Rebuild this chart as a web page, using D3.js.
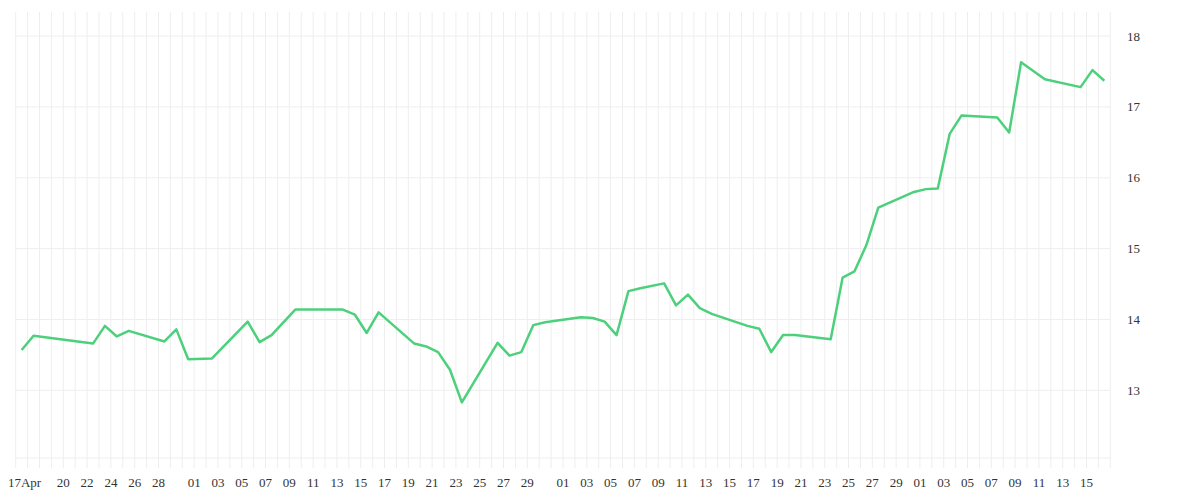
<!DOCTYPE html>
<html>
<head>
<meta charset="utf-8">
<script src="https://cdn.jsdelivr.net/npm/d3@7"></script>
<style>
  body { margin: 0; background: #fff; }
  svg text { font-family: "Liberation Serif", serif; font-size: 13px; fill: #333; }
</style>
</head>
<body>
<div id="chart"></div>
<script>
// daily closes (dates without a value are simply skipped)
var dates = [
  "2020-04-16","2020-04-17","2020-04-22","2020-04-23","2020-04-24","2020-04-25",
  "2020-04-28","2020-04-29","2020-04-30","2020-05-02","2020-05-05","2020-05-06",
  "2020-05-07","2020-05-09","2020-05-13","2020-05-14","2020-05-15","2020-05-16",
  "2020-05-19","2020-05-20","2020-05-21","2020-05-22","2020-05-23","2020-05-26",
  "2020-05-27","2020-05-28","2020-05-29","2020-05-30","2020-06-02","2020-06-03",
  "2020-06-04","2020-06-05","2020-06-06","2020-06-07","2020-06-09","2020-06-10",
  "2020-06-11","2020-06-12","2020-06-13","2020-06-16","2020-06-17","2020-06-18",
  "2020-06-19","2020-06-20","2020-06-23","2020-06-24","2020-06-25","2020-06-26",
  "2020-06-27","2020-06-30","2020-07-01","2020-07-02","2020-07-03","2020-07-04",
  "2020-07-07","2020-07-08","2020-07-09","2020-07-11","2020-07-14","2020-07-15",
  "2020-07-16"
];
var values = [
  13.57, 13.77, 13.66, 13.91, 13.76, 13.84,
  13.69, 13.86, 13.44, 13.45, 13.97, 13.68,
  13.78, 14.14, 14.14, 14.07, 13.81, 14.10,
  13.66, 13.62, 13.54, 13.29, 12.83, 13.67,
  13.49, 13.54, 13.92, 13.96, 14.03, 14.02,
  13.97, 13.78, 14.40, 14.44, 14.51, 14.20,
  14.35, 14.16, 14.08, 13.91, 13.87, 13.54,
  13.78, 13.78, 13.72, 14.59, 14.68, 15.05,
  15.58, 15.80, 15.84, 15.85, 16.62, 16.88,
  16.85, 16.64, 17.63, 17.39, 17.28, 17.52,
  17.37
];

// x axis labels
var tickDates = [
  "2020-04-17","2020-04-20","2020-04-22","2020-04-24","2020-04-26","2020-04-28",
  "2020-05-01","2020-05-03","2020-05-05","2020-05-07","2020-05-09","2020-05-11",
  "2020-05-13","2020-05-15","2020-05-17","2020-05-19","2020-05-21","2020-05-23",
  "2020-05-25","2020-05-27","2020-05-29",
  "2020-06-01","2020-06-03","2020-06-05","2020-06-07","2020-06-09","2020-06-11",
  "2020-06-13","2020-06-15","2020-06-17","2020-06-19","2020-06-21","2020-06-23",
  "2020-06-25","2020-06-27","2020-06-29",
  "2020-07-01","2020-07-03","2020-07-05","2020-07-07","2020-07-09","2020-07-11",
  "2020-07-13","2020-07-15"
];
var yTicks = [13, 14, 15, 16, 17, 18];
var xStart = "2020-04-16", xEnd = "2020-07-17";

var width = 1200, height = 500;
var plot = {left: 15.7, right: 1110.3, top: 12, bottom: 458};

var parse = d3.utcParse("%Y-%m-%d");

var svg = d3.select("#chart").append("svg")
    .attr("width", width)
    .attr("height", height);

var x = d3.scaleUtc()
    .domain([parse(xStart), parse(xEnd)])
    .range([plot.left, plot.right]);

var y = d3.scaleLinear()
    .domain([12.045, 18.34])
    .range([plot.bottom, plot.top]);

// vertical grid, one line per day, running down past the bottom as a tick
var days = d3.utcDay.range(parse(xStart), d3.utcDay.offset(parse(xEnd), 1));
svg.append("g").selectAll("line")
    .data(days)
    .enter().append("line")
    .attr("x1", function(d){ return x(d); })
    .attr("x2", function(d){ return x(d); })
    .attr("y1", plot.top)
    .attr("y2", plot.bottom + 10)
    .attr("stroke", "#eeeeee")
    .attr("stroke-width", 1);

// horizontal grid
svg.append("g").selectAll("line")
    .data(yTicks)
    .enter().append("line")
    .attr("x1", plot.left)
    .attr("x2", plot.right)
    .attr("y1", function(d){ return y(d); })
    .attr("y2", function(d){ return y(d); })
    .attr("stroke", "#eeeeee");

svg.append("line")
    .attr("x1", plot.left)
    .attr("x2", plot.right)
    .attr("y1", plot.bottom)
    .attr("y2", plot.bottom)
    .attr("stroke", "#eeeeee");

// x labels
var fmtDay = d3.utcFormat("%d"), fmtFirst = d3.utcFormat("%d%b");
svg.append("g").selectAll("text")
    .data(tickDates.map(parse))
    .enter().append("text")
    .attr("x", function(d){ return x(d); })
    .attr("y", 487)
    .attr("dx", function(d, i){ return i == 0 ? -3 : 0; })
    .attr("text-anchor", "middle")
    .text(function(d, i){ return i == 0 ? fmtFirst(d) : fmtDay(d); });

// y labels on the right
svg.append("g").selectAll("text")
    .data(yTicks)
    .enter().append("text")
    .attr("x", 1127)
    .attr("y", function(d){ return y(d); })
    .attr("dy", "0.35em")
    .text(function(d){ return d; });

// the line, points sit mid-day
var data = dates.map(function(d, i){
    return {date: d3.utcHour.offset(parse(d), 12), value: values[i]};
});

var line = d3.line()
    .x(function(d){ return x(d.date); })
    .y(function(d){ return y(d.value); });

svg.append("path")
    .datum(data)
    .attr("d", line)
    .attr("fill", "none")
    .attr("stroke", "#4dd07c")
    .attr("stroke-width", 2.5)
    .attr("stroke-linejoin", "round");
</script>
</body>
</html>
